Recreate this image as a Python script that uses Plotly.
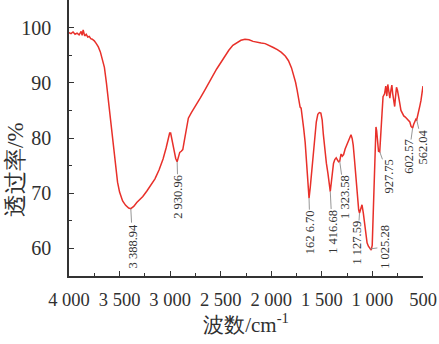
import plotly.graph_objects as go

# FTIR spectrum: wavenumber (cm^-1) and transmittance (%)
wavenumber = [
    4000, 3980, 3960, 3940, 3920, 3900, 3880, 3870, 3860, 3845, 3830, 3815, 3800,
    3785, 3770, 3750, 3730, 3710, 3690, 3670, 3650, 3630, 3615, 3600, 3580, 3560,
    3540, 3520, 3500, 3470, 3440, 3410, 3388.94, 3360, 3330, 3300, 3270, 3230,
    3190, 3150, 3110, 3070, 3040, 3020, 3005, 2995, 2980, 2960, 2945, 2930.96,
    2920, 2905, 2890, 2875, 2860, 2840, 2820, 2790, 2760, 2730, 2700, 2660, 2620,
    2580, 2540, 2500, 2460, 2420, 2380, 2340, 2300, 2260, 2220, 2180, 2140, 2100,
    2060, 2020, 1980, 1940, 1900, 1860, 1830, 1800, 1780, 1760, 1745, 1730, 1715,
    1705, 1695, 1680, 1665, 1650, 1638, 1626.70, 1615, 1600, 1585, 1570, 1555,
    1540, 1525, 1510, 1497, 1485, 1470, 1455, 1440, 1428, 1416.68, 1405, 1395,
    1385, 1372, 1358, 1345, 1335, 1323.58, 1310, 1298, 1285, 1270, 1255, 1240,
    1225, 1212, 1200, 1190, 1178, 1165, 1155, 1145, 1136, 1127.59, 1115, 1103,
    1090, 1078, 1065, 1053, 1040, 1025.28, 1012, 1002, 993, 985, 975, 965, 958,
    950, 940, 927.75, 915, 905, 895, 880, 868, 858, 848, 838, 828, 818, 808, 800,
    790, 780, 772, 762, 752, 742, 730, 718, 705, 690, 675, 660, 645, 630, 618,
    602.57, 592, 580, 570, 562.04, 552, 540, 530, 520, 510, 500,
]
transmittance = [
    99.1, 98.9, 99.2, 98.8, 99.0, 98.7, 99.3, 98.6, 99.6, 98.5, 98.8, 98.3, 98.4,
    98.0, 97.9, 97.6, 97.1, 96.5, 95.6, 94.4, 92.8, 90.0, 87.5, 85.0, 81.6, 77.8,
    74.5, 72.0, 70.2, 68.6, 67.8, 67.3, 67.2, 67.6, 68.3, 68.8, 69.4, 70.4,
    71.4, 72.6, 74.2, 76.2, 78.2, 79.8, 80.9, 80.9, 79.5, 77.6, 76.3, 75.7,
    76.6, 77.4, 77.6, 77.9, 79.5, 82.0, 83.6, 84.6, 85.5, 86.2, 87.3, 88.6, 89.8,
    91.2, 92.5, 93.7, 94.9, 95.9, 96.8, 97.3, 97.7, 97.9, 97.8, 97.5, 97.3, 97.2,
    97.1, 96.8, 96.4, 96.0, 95.5, 94.8, 94.0, 92.7, 91.6, 90.1, 88.7, 86.8, 85.6,
    85.4, 84.2, 81.8, 79.2, 75.8, 72.6, 69.1, 71.0, 74.2, 77.6, 80.6, 82.9,
    84.3, 84.6, 84.5, 83.3, 80.6, 77.8, 75.4, 73.6, 71.6, 70.3, 72.2, 73.8,
    75.4, 76.1, 76.4, 76.0, 75.7, 75.8, 77.1, 76.7, 77.0, 78.0, 78.6, 79.2,
    79.8, 80.6, 79.9, 78.7, 76.2, 73.4, 70.6, 68.2, 67.0, 66.4, 67.3, 67.9,
    66.4, 64.6, 62.6, 61.0, 60.4, 59.9, 59.7, 60.6, 65.0, 71.5, 77.0, 82.0, 81.3,
    78.8, 77.6, 77.5, 80.5, 84.5, 87.5, 88.0, 89.4, 87.6, 89.7, 88.7, 87.2, 88.6, 89.6, 88.1,
    86.8, 85.7, 87.4, 89.2, 88.6, 87.8, 86.3, 85.0, 84.4, 84.0, 83.8, 83.5, 83.1, 82.9, 82.1,
    81.8, 82.5, 83.2, 83.4, 83.3, 84.0, 85.0, 85.9, 86.8, 88.0, 89.4,
]

# Labelled absorption bands
peak_labels = ["3 388.94", "2 930.96", "162 6.70", "1 416.68", "1 323.58",
               "1 127.59", "1 025.28", "927.75", "602.57", "562.04"]
peak_wavenumber = [3388.94, 2930.96, 1626.70, 1416.68, 1323.58,
                   1127.59, 1025.28, 927.75, 602.57, 562.04]

x_tickvals = [4000, 3500, 3000, 2500, 2000, 1500, 1000, 500]
x_ticktext = ["4 000", "3 500", "3 000", "2 500", "2 000", "1 500", "1 000", "500"]
y_tickvals = [60, 70, 80, 90, 100]

# pixel offsets of each label centre from its band point
label_offsets = [(2, 37), (1, 35), (1, 34), (2, 40), (5, 36),
                 (-2, 30), (15, -2), (9, 25), (-4, 29), (6, 27)]

SERIF = "Liberation Serif"
INK = "#303030"

fig = go.Figure()
fig.add_trace(go.Scatter(
    x=wavenumber, y=transmittance, mode="lines",
    line=dict(color="#e8302a", width=1.5),
    hoverinfo="skip", showlegend=False,
))

lookup = dict(zip(wavenumber, transmittance))
for text, wn, (dx, dy) in zip(peak_labels, peak_wavenumber, label_offsets):
    fig.add_annotation(
        x=wn, y=lookup[wn], xref="x", yref="y",
        text=text, textangle=-90,
        font=dict(family=SERIF, size=12.5, color="#333333"),
        showarrow=True, arrowhead=0, arrowwidth=0.9, arrowcolor="#8a8a8a",
        standoff=0, startstandoff=0, ax=dx, ay=dy, borderpad=0,
    )

# y-axis title
fig.add_annotation(
    xref="paper", yref="paper", x=-54 / 354, y=1 - 170 / 276,
    text="透过率/%", textangle=-90, showarrow=False,
    xanchor="center", yanchor="middle",
    font=dict(family=SERIF, size=23, color=INK),
)

fig.update_layout(
    width=439, height=344,
    margin=dict(l=69, r=16, t=0, b=68),
    paper_bgcolor="white", plot_bgcolor="white",
    font=dict(family=SERIF, color=INK),
    xaxis=dict(
        range=[4000, 500], autorange=False,
        tickvals=x_tickvals, ticktext=x_ticktext,
        ticks="inside", ticklen=5, tickwidth=1.2, tickcolor="#333333",
        minor=dict(dtick=250, tick0=500, ticks="inside", ticklen=3, tickwidth=1.2, tickcolor="#333333"),
        showline=True, linecolor="#333333", linewidth=1.5,
        showgrid=False, zeroline=False,
        tickfont=dict(family=SERIF, size=18.5, color=INK),
        ticklabelstandoff=6,
        title=dict(text="波数/cm<sup>-1</sup>", font=dict(family=SERIF, size=21, color=INK), standoff=6),
    ),
    yaxis=dict(
        range=[55, 105], autorange=False,
        tickvals=y_tickvals,
        ticks="inside", ticklen=5, tickwidth=1.2, tickcolor="#333333",
        minor=dict(dtick=5, tick0=55, ticks="inside", ticklen=3, tickwidth=1.2, tickcolor="#333333"),
        showline=True, linecolor="#333333", linewidth=1.5,
        showgrid=False, zeroline=False,
        tickfont=dict(family=SERIF, size=20, color=INK),
        ticklabelstandoff=12,
    ),
)

fig.write_html("out.html")
